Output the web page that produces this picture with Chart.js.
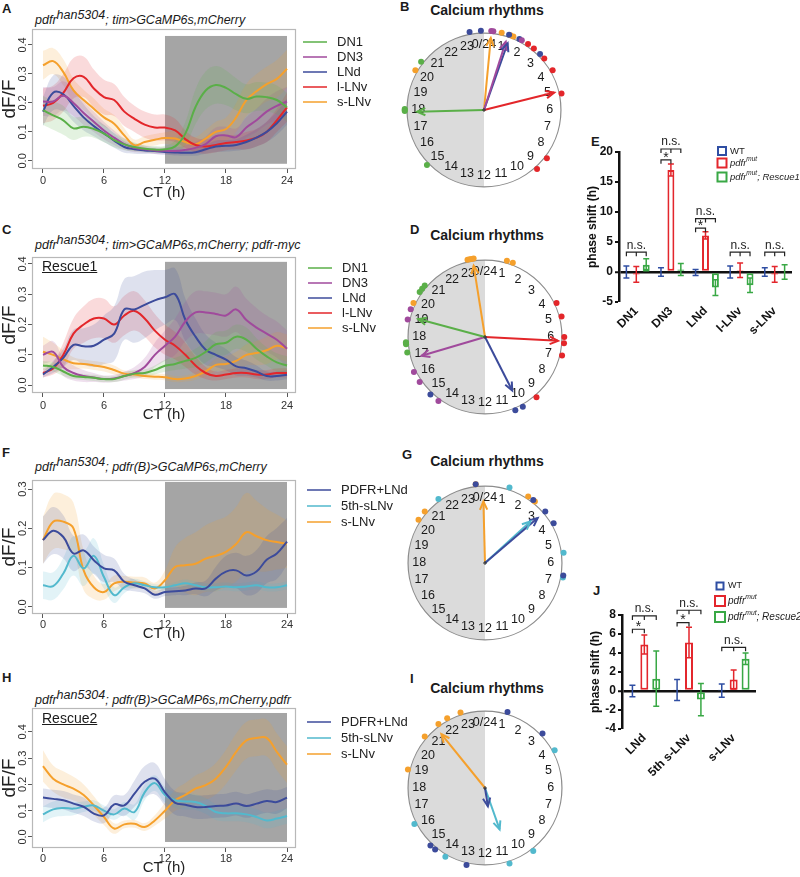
<!DOCTYPE html>
<html>
<head>
<meta charset="utf-8">
<script src="https://cdn.jsdelivr.net/npm/chart.js@4.4.1/dist/chart.umd.min.js"></script>
<style>
body { margin:0; background:#fff; width:800px; height:877px; position:relative; overflow:hidden; font-family:"Liberation Sans", Arial, sans-serif; color:#1a1a1a; }
canvas { position:absolute; }
.lbl { position:absolute; font-weight:bold; font-size:13px; line-height:1; }
.ttl { position:absolute; font-style:italic; font-size:12.5px; line-height:1; white-space:nowrap; }
.ttl .up { position:relative; top:-5px; }
.cr { position:absolute; left:407px; width:160px; text-align:center; font-weight:bold; font-size:14px; line-height:1; }
.res { position:absolute; left:42px; font-size:14px; line-height:1; text-decoration:underline; }
</style>
</head>
<body>
<div class="lbl" style="left:2px;top:2px">A</div>
<div class="lbl" style="left:400px;top:0px">B</div>
<div class="lbl" style="left:2px;top:223px">C</div>
<div class="lbl" style="left:410px;top:223px">D</div>
<div class="lbl" style="left:591px;top:135px">E</div>
<div class="lbl" style="left:2px;top:446px">F</div>
<div class="lbl" style="left:402px;top:448px">G</div>
<div class="lbl" style="left:2px;top:671px">H</div>
<div class="lbl" style="left:410px;top:672px">I</div>
<div class="lbl" style="left:593px;top:584px">J</div>

<div class="ttl" style="left:35px;top:14px">pdfr<span class="up">han5304</span>; tim&gt;GCaMP6s,mCherry</div>
<div class="ttl" style="left:35px;top:239px">pdfr<span class="up">han5304</span>; tim&gt;GCaMP6s,mCherry; pdfr-myc</div>
<div class="ttl" style="left:35px;top:461px">pdfr<span class="up">han5304</span>; pdfr(B)&gt;GCaMP6s,mCherry</div>
<div class="ttl" style="left:35px;top:694px">pdfr<span class="up">han5304</span>; pdfr(B)&gt;GCaMP6s,mCherry,pdfr</div>

<div class="cr" style="top:3px">Calcium rhythms</div>
<div class="cr" style="top:228px">Calcium rhythms</div>
<div class="cr" style="top:454px">Calcium rhythms</div>
<div class="cr" style="top:681px">Calcium rhythms</div>

<canvas id="cA" width="420" height="205" style="left:0;top:0"></canvas>
<canvas id="cC" width="420" height="205" style="left:0;top:220px"></canvas>
<canvas id="cF" width="420" height="205" style="left:0;top:440px"></canvas>
<canvas id="cH" width="420" height="216" style="left:0;top:660px"></canvas>
<canvas id="cB" width="210" height="210" style="left:379px;top:5px"></canvas>
<canvas id="cD" width="210" height="210" style="left:380px;top:232px"></canvas>
<canvas id="cG" width="210" height="210" style="left:380px;top:458px"></canvas>
<canvas id="cI" width="210" height="210" style="left:380px;top:683px"></canvas>
<canvas id="cE" width="260" height="225" style="left:540px;top:130px"></canvas>
<canvas id="cJ" width="260" height="230" style="left:540px;top:570px"></canvas>

<div class="res" style="top:259px">Rescue1</div>
<div class="res" style="top:711px">Rescue2</div>

<script>
// ---- data: calcium traces (CT hours, dF/F mean and sem) ----
const ctHours = [0,1,2,3,4,5,6,7,8,9,10,11,12,13,14,15,16,17,18,19,20,21,22,23,24];
const ctTicks = [0,6,12,18,24];
const dffTicks = [0,0.1,0.2,0.3,0.4];
const dffTicksF = [0,0.1,0.2,0.3];

// A
const dn1A = [0.175,0.157,0.140,0.112,0.118,0.110,0.094,0.072,0.057,0.048,0.042,0.039,0.040,0.050,0.094,0.186,0.243,0.262,0.252,0.230,0.214,0.222,0.220,0.210,0.185];
const dn3A = [0.205,0.205,0.225,0.200,0.165,0.135,0.105,0.080,0.058,0.045,0.040,0.036,0.035,0.034,0.038,0.045,0.058,0.085,0.088,0.082,0.115,0.140,0.170,0.190,0.205];
const lndA = [0.170,0.235,0.230,0.190,0.150,0.120,0.095,0.070,0.048,0.040,0.036,0.034,0.031,0.029,0.028,0.030,0.040,0.050,0.052,0.055,0.065,0.080,0.100,0.130,0.170];
const llnvA = [0.190,0.200,0.235,0.285,0.290,0.250,0.220,0.210,0.170,0.145,0.125,0.115,0.115,0.105,0.075,0.055,0.050,0.055,0.062,0.065,0.070,0.080,0.100,0.140,0.185];
const slnvA = [0.330,0.344,0.306,0.243,0.210,0.180,0.150,0.128,0.088,0.054,0.065,0.073,0.079,0.077,0.065,0.057,0.077,0.100,0.110,0.150,0.210,0.240,0.265,0.283,0.318];
const dn1ASem = [0.05,0.05,0.05,0.04,0.035,0.03,0.03,0.025,0.02,0.015,0.012,0.012,0.012,0.02,0.04,0.06,0.065,0.065,0.06,0.055,0.05,0.05,0.05,0.05,0.05];
const dn3ASem = [0.05,0.05,0.05,0.045,0.04,0.035,0.03,0.025,0.02,0.015,0.012,0.012,0.012,0.012,0.015,0.02,0.025,0.03,0.03,0.03,0.035,0.04,0.045,0.05,0.05];
const lndASem = [0.05,0.06,0.06,0.055,0.045,0.035,0.03,0.025,0.02,0.015,0.012,0.01,0.01,0.01,0.01,0.012,0.015,0.02,0.02,0.02,0.025,0.03,0.035,0.04,0.045];
const llnvASem = [0.06,0.06,0.065,0.07,0.07,0.065,0.06,0.055,0.05,0.045,0.045,0.045,0.045,0.04,0.03,0.025,0.025,0.025,0.025,0.025,0.03,0.03,0.035,0.04,0.05];
const slnvASem = [0.05,0.045,0.045,0.04,0.035,0.035,0.03,0.03,0.025,0.02,0.02,0.02,0.02,0.025,0.025,0.025,0.03,0.035,0.04,0.05,0.055,0.06,0.06,0.065,0.065];

// C
const dn1C = [0.065,0.060,0.045,0.030,0.027,0.024,0.020,0.020,0.030,0.038,0.040,0.050,0.064,0.070,0.080,0.090,0.110,0.135,0.140,0.160,0.150,0.120,0.095,0.075,0.065];
const dn3C = [0.100,0.110,0.060,0.040,0.030,0.025,0.020,0.022,0.030,0.040,0.060,0.100,0.130,0.160,0.210,0.240,0.240,0.235,0.230,0.250,0.215,0.190,0.170,0.150,0.120];
const lndC = [0.035,0.060,0.090,0.133,0.128,0.130,0.150,0.170,0.250,0.250,0.265,0.280,0.290,0.300,0.216,0.160,0.117,0.100,0.084,0.062,0.056,0.045,0.030,0.030,0.034];
const llnvC = [0.040,0.055,0.100,0.170,0.200,0.220,0.220,0.200,0.230,0.245,0.220,0.180,0.150,0.130,0.100,0.065,0.040,0.030,0.035,0.040,0.040,0.035,0.035,0.040,0.040];
const slnvC = [0.110,0.100,0.085,0.072,0.070,0.065,0.060,0.050,0.038,0.035,0.030,0.028,0.026,0.020,0.022,0.030,0.045,0.067,0.070,0.080,0.100,0.106,0.115,0.130,0.122];
const dn1CSem = [0.015,0.015,0.015,0.01,0.01,0.01,0.01,0.01,0.012,0.012,0.012,0.015,0.02,0.02,0.025,0.03,0.035,0.04,0.04,0.04,0.04,0.035,0.03,0.03,0.03];
const dn3CSem = [0.03,0.035,0.03,0.025,0.02,0.015,0.012,0.012,0.015,0.02,0.03,0.04,0.05,0.06,0.065,0.07,0.07,0.07,0.07,0.075,0.07,0.065,0.06,0.06,0.06];
const lndCSem = [0.01,0.02,0.03,0.05,0.06,0.07,0.08,0.09,0.1,0.11,0.11,0.1,0.09,0.085,0.07,0.06,0.05,0.04,0.035,0.03,0.025,0.02,0.015,0.015,0.015];
const llnvCSem = [0.015,0.02,0.04,0.05,0.06,0.065,0.065,0.06,0.065,0.065,0.06,0.055,0.05,0.045,0.04,0.03,0.02,0.015,0.015,0.015,0.015,0.015,0.015,0.015,0.015];
const slnvCSem = [0.05,0.04,0.03,0.02,0.015,0.015,0.015,0.015,0.01,0.01,0.01,0.01,0.01,0.01,0.01,0.012,0.015,0.02,0.025,0.03,0.035,0.04,0.045,0.045,0.045];

// F
const pdfrF = [0.170,0.194,0.178,0.136,0.144,0.119,0.098,0.093,0.064,0.055,0.047,0.031,0.038,0.040,0.042,0.047,0.047,0.072,0.090,0.093,0.080,0.090,0.120,0.136,0.166];
const cyanF = [0.055,0.053,0.085,0.130,0.098,0.130,0.076,0.030,0.050,0.060,0.055,0.050,0.050,0.055,0.060,0.055,0.050,0.050,0.052,0.050,0.052,0.055,0.050,0.050,0.055];
const slnvF = [0.170,0.217,0.217,0.200,0.093,0.050,0.038,0.060,0.064,0.062,0.060,0.047,0.068,0.102,0.106,0.110,0.123,0.130,0.140,0.160,0.190,0.180,0.170,0.165,0.160];
const pdfrFSem = [0.06,0.06,0.055,0.045,0.04,0.035,0.035,0.03,0.02,0.015,0.012,0.01,0.01,0.01,0.012,0.015,0.02,0.03,0.04,0.045,0.05,0.055,0.06,0.065,0.06];
const cyanFSem = [0.035,0.035,0.04,0.05,0.045,0.045,0.03,0.02,0.015,0.012,0.01,0.008,0.008,0.008,0.01,0.01,0.01,0.01,0.01,0.01,0.01,0.01,0.01,0.01,0.01];
const slnvFSem = [0.06,0.07,0.07,0.065,0.05,0.03,0.02,0.02,0.015,0.015,0.015,0.015,0.025,0.05,0.07,0.08,0.085,0.09,0.09,0.095,0.1,0.09,0.08,0.07,0.06];

// H
const pdfrH = [0.150,0.145,0.140,0.127,0.115,0.089,0.082,0.124,0.120,0.165,0.210,0.222,0.170,0.130,0.123,0.114,0.114,0.118,0.120,0.127,0.118,0.127,0.137,0.133,0.150];
const cyanH = [0.086,0.105,0.110,0.108,0.115,0.120,0.100,0.086,0.108,0.095,0.170,0.205,0.160,0.140,0.135,0.133,0.118,0.095,0.090,0.090,0.086,0.076,0.063,0.070,0.080];
const slnvH = [0.270,0.222,0.200,0.184,0.160,0.120,0.076,0.032,0.048,0.050,0.038,0.063,0.100,0.140,0.160,0.184,0.197,0.222,0.267,0.324,0.368,0.377,0.377,0.324,0.275];
const pdfrHSem = [0.035,0.035,0.035,0.035,0.035,0.03,0.03,0.035,0.04,0.05,0.06,0.06,0.05,0.045,0.045,0.045,0.045,0.045,0.045,0.045,0.045,0.045,0.045,0.045,0.04];
const cyanHSem = [0.03,0.03,0.03,0.025,0.02,0.02,0.02,0.02,0.025,0.03,0.03,0.03,0.03,0.03,0.03,0.03,0.03,0.03,0.03,0.03,0.03,0.03,0.03,0.03,0.03];
const slnvHSem = [0.06,0.05,0.05,0.045,0.04,0.035,0.03,0.02,0.015,0.015,0.015,0.02,0.03,0.04,0.045,0.05,0.055,0.06,0.065,0.07,0.07,0.07,0.07,0.07,0.07];

// ---- data: phase clocks (hours; arrow = [phase, length]) ----
const clockHours = [0,1,2,3,4,5,6,7,8,9,10,11,12,13,14,15,16,17,18,19,20,21,22,23];
const clockHourLabels = ['0/24','1','2','3','4','5','6','7','8','9','10','11','12','13','14','15','16','17','18','19','20','21','22','23'];

const bDn1Dots = [20.5, 18.0, 18.05, 17.95, 15.07];
const bDn3Dots = [0.35, 0.45, 1.9];
const bLndDots = [23.3, 23.85, 1.23, 1.77, 3.0];
const bLlnvDots = [2.25, 2.6, 3.3, 4.0, 5.2, 8.5, 9.2];
const bSlnvDots = [20.0, 0.86, 1.3, 1.45];
const bDn1Arrow = [17.9, 0.87];
const bDn3Arrow = [1.18, 0.93];
const bLndArrow = [1.3, 0.92];
const bLlnvArrow = [5.07, 0.94];
const bSlnvArrow = [0.36, 0.94];

const dDn1Dots = [20.3, 20.5, 20.7, 17.7, 17.65, 17.75, 17.25];
const dDn3Dots = [19.36, 18.85, 16.25, 15.7, 14.4];
const dLndDots = [14.9, 10.5, 10.1];
const dLlnvDots = [4.3, 5.0, 6.0, 6.3, 6.9, 9.3];
const dSlnvDots = [23.15, 23.25, 23.35, 23.45, 19.7, 1.07, 1.37];
const dDn1Arrow = [19.0, 0.9];
const dDn3Arrow = [16.9, 0.86];
const dLndArrow = [10.2, 0.78];
const dLlnvArrow = [6.2, 0.95];
const dSlnvArrow = [23.4, 0.94];

const gPdfrDots = [23.55, 2.5, 3.3, 4.0, 6.6];
const gCyanDots = [1.2, 21.6, 5.5, 6.7];
const gSlnvDots = [23.55, 2.2, 2.6, 20.7, 20.2];
const gPdfrArrow = [3.3, 0.9];
const gCyanArrow = [3.17, 0.8];
const gSlnvArrow = [23.9, 0.8];

const iPdfrDots = [1.1, 14.9, 14.6, 12.9, 3.1];
const iCyanDots = [16.2, 14.0, 10.8, 9.5, 4.1];
const iSlnvDots = [21.6, 22.1, 22.8, 20.7, 18.9];
const iPdfrArrow = [11.4, 0.24];
const iCyanArrow = [10.7, 0.57];
const iSlnvArrow = [21.4, 0.9];

// ---- data: phase shift bars ----
const eCategories = ['DN1','DN3','LNd','l-LNv','s-LNv'];
const eWT = [0, 0, -0.1, 0, 0];
const eWTErr = [1.0, 0.7, 0.5, 1.0, 0.7];
const ePdfr = [-0.4, 17.0, 6.1, 0.3, -0.4];
const ePdfrErr = [1.3, 1.0, 0.6, 1.2, 1.3];
const eRescue = [1.2, 0.4, -2.6, -2.2, 0];
const eRescueErr = [1.0, 1.0, 1.3, 1.2, 1.2];
const eTicks = [-5, 0, 5, 10, 15, 20];
const eLegend = ['WT', 'pdfr{mut}', 'pdfr{mut}; Rescue1'];
// [category, fromSeries, toSeries, height, text]
const eBrackets = [[0,0,2,3.3,'n.s.'],[1,0,1,18.7,'*'],[1,0,2,20.5,'n.s.'],[2,0,1,7.3,'*'],[2,0,2,8.9,'n.s.'],[3,0,2,3.3,'n.s.'],[4,0,2,3.3,'n.s.']];

const jCategories = ['LNd','5th s-LNv','s-LNv'];
const jWT = [0, 0.1, 0.05];
const jWTErr = [0.6, 1.1, 0.7];
const jPdfr = [4.9, 5.1, 1.2];
const jPdfrErr = [1.0, 1.6, 1.0];
const jRescue = [1.3, -0.9, 3.4];
const jRescueErr = [2.9, 1.7, 0.6];
const jTicks = [-4, -2, 0, 2, 4, 6, 8];
const jLegend = ['WT', 'pdfr{mut}', 'pdfr{mut}; Rescue2'];
const jBrackets = [[0,0,1,6.5,'*'],[0,0,2,7.9,'n.s.'],[1,0,1,7.2,'*'],[1,0,2,8.5,'n.s.'],[2,0,2,4.6,'n.s.']];

// ---- colours ----
const GREEN = '#5aaf48', PURPLE = '#a04a9c', NAVY = '#3c4b9b', RED = '#e3262a', ORANGE = '#f5a02c', CYAN = '#52b9cd';
const BAR_BLUE = '#2f4ea3', BAR_RED = '#e3262c', BAR_GREEN = '#39a845';
const FONT = '"Liberation Sans", Arial, sans-serif';

function rgba(hex, a) {
  const n = parseInt(hex.slice(1), 16);
  return 'rgba(' + (n >> 16) + ',' + ((n >> 8) & 255) + ',' + (n & 255) + ',' + a + ')';
}

// ---------- line panels ----------
const panelDeco = {
  id: 'panelDeco',
  beforeDatasetsDraw(chart, args, opts) {
    const {ctx, scales: {x, y}} = chart;
    const x0 = x.getPixelForValue(12), x1 = x.getPixelForValue(24);
    const y0 = y.getPixelForValue(opts.shade[1]), y1 = y.getPixelForValue(opts.shade[0]);
    ctx.save();
    ctx.fillStyle = '#a5a5a5';
    ctx.fillRect(x0, y0, x1 - x0, y1 - y0);
    ctx.restore();
  },
  afterDraw(chart, args, opts) {
    const {ctx, chartArea: a} = chart;
    ctx.save();
    ctx.strokeStyle = '#b8b8b8';
    ctx.lineWidth = 1.2;
    ctx.strokeRect(a.left + 0.5, a.top + 0.5, a.width - 1, a.height - 1);
    // x axis title
    ctx.fillStyle = '#222';
    ctx.font = '15px ' + FONT;
    ctx.textAlign = 'center';
    ctx.textBaseline = 'middle';
    ctx.fillText('CT (h)', (a.left + a.right) / 2, a.bottom + opts.titleOffset);
    // legend
    ctx.textAlign = 'left';
    ctx.font = '13px ' + FONT;
    let i = 0;
    chart.data.datasets.forEach(ds => {
      if (!ds.legendLine) return;
      const yy = opts.legendY + i * opts.legendGap;
      ctx.strokeStyle = ds.borderColor;
      ctx.lineWidth = 1.5;
      ctx.beginPath();
      ctx.moveTo(opts.legendX, yy);
      ctx.lineTo(opts.legendX + 24, yy);
      ctx.stroke();
      ctx.fillStyle = '#222';
      ctx.fillText(ds.label, opts.legendX + 34, yy);
      i++;
    });
    ctx.restore();
  }
};

function bandSets(label, mean, sem, color) {
  return [
    {data: ctHours.map((h, i) => ({x: h, y: mean[i] + sem[i]})), borderWidth: 0, pointRadius: 0, fill: false, tension: 0.4, order: 10},
    {data: ctHours.map((h, i) => ({x: h, y: mean[i] - sem[i]})), borderWidth: 0, pointRadius: 0, fill: '-1', backgroundColor: rgba(color, 0.17), tension: 0.4, order: 10},
    {label: label, data: ctHours.map((h, i) => ({x: h, y: mean[i]})), borderColor: color, borderWidth: 2, pointRadius: 0, fill: false, tension: 0.4, order: 0, legendLine: true}
  ];
}

function lineChart(id, o) {
  const datasets = [];
  o.series.forEach(s => datasets.push(...bandSets(s[0], s[1], s[2], s[3])));
  const canvas = document.getElementById(id);
  new Chart(canvas, {
    type: 'line',
    data: {datasets},
    options: {
      responsive: false,
      animation: false,
      layout: {padding: {top: o.areaTop, right: canvas.width - 296, left: 0, bottom: 0}},
      plugins: {
        legend: {display: false},
        tooltip: {enabled: false},
        panelDeco: {shade: o.shade, legendX: o.legendX, legendY: o.legendY, legendGap: o.legendGap, titleOffset: o.titleOffset}
      },
      scales: {
        x: {
          type: 'linear', min: -1.08, max: 24.885,
          afterBuildTicks: s => { s.ticks = ctTicks.map(v => ({value: v})); },
          afterFit: s => { s.height = canvas.height - o.areaBottom; },
          ticks: {padding: o.xPad, maxRotation: 0, font: {size: 11, family: FONT}, color: '#333'},
          grid: {drawOnChartArea: false, tickLength: 4, color: '#555'},
          border: {display: false}
        },
        y: {
          min: o.yRange[0], max: o.yRange[1],
          afterBuildTicks: s => { s.ticks = o.yTicks.map(v => ({value: v})); },
          afterFit: s => { s.width = 32; },
          ticks: {minRotation: 90, maxRotation: 90, crossAlign: 'center', padding: -3, font: {size: 11, family: FONT}, color: '#333', callback: v => v.toFixed(1)},
          grid: {drawOnChartArea: false, tickLength: 4, color: '#555'},
          border: {display: false},
          title: {display: true, text: 'dF/F', padding: 0, font: {size: 19, family: FONT, lineHeight: 1}, color: '#222'}
        }
      }
    },
    plugins: [panelDeco]
  });
}

lineChart('cA', {
  series: [['DN1', dn1A, dn1ASem, GREEN], ['DN3', dn3A, dn3ASem, PURPLE], ['LNd', lndA, lndASem, NAVY], ['l-LNv', llnvA, llnvASem, RED], ['s-LNv', slnvA, slnvASem, ORANGE]],
  areaTop: 29, areaBottom: 169, yRange: [-0.028, 0.455], yTicks: dffTicks, shade: [-0.01, 0.431], xPad: 1, titleOffset: 24,
  legendX: 303, legendY: 42, legendGap: 15
});
lineChart('cC', {
  series: [['DN1', dn1C, dn1CSem, GREEN], ['DN3', dn3C, dn3CSem, PURPLE], ['LNd', lndC, lndCSem, NAVY], ['l-LNv', llnvC, llnvCSem, RED], ['s-LNv', slnvC, slnvCSem, ORANGE]],
  areaTop: 37, areaBottom: 173, yRange: [-0.026, 0.423], yTicks: dffTicks, shade: [-0.013, 0.407], xPad: 2, titleOffset: 22,
  legendX: 308, legendY: 48, legendGap: 15
});
lineChart('cF', {
  series: [['PDFR+LNd', pdfrF, pdfrFSem, NAVY], ['5th-sLNv', cyanF, cyanFSem, CYAN], ['s-LNv', slnvF, slnvFSem, ORANGE]],
  areaTop: 40, areaBottom: 174, yRange: [-0.018, 0.323], yTicks: dffTicksF, shade: [-0.0025, 0.318], xPad: 0, titleOffset: 20,
  legendX: 307, legendY: 50, legendGap: 16
});
lineChart('cH', {
  series: [['PDFR+LNd', pdfrH, pdfrHSem, NAVY], ['5th-sLNv', cyanH, cyanHSem, CYAN], ['s-LNv', slnvH, slnvHSem, ORANGE]],
  areaTop: 48, areaBottom: 188, yRange: [-0.042, 0.491], yTicks: dffTicks, shade: [-0.019, 0.472], xPad: 0, titleOffset: 20,
  legendX: 307, legendY: 62, legendGap: 16
});

// ---------- phase clocks ----------
function clockPoint(h, r) {
  const a = h / 24 * 2 * Math.PI;
  return {x: r * Math.sin(a), y: r * Math.cos(a)};
}

const clockDeco = {
  id: 'clockDeco',
  beforeDatasetsDraw(chart) {
    const {ctx, scales: {x, y}} = chart;
    const cx = x.getPixelForValue(0), cy = y.getPixelForValue(0);
    const R = x.getPixelForValue(1) - cx;
    ctx.save();
    ctx.fillStyle = '#dbdbdb';
    ctx.beginPath();
    ctx.arc(cx, cy, R, Math.PI / 2, Math.PI * 1.5);
    ctx.closePath();
    ctx.fill();
    ctx.strokeStyle = '#8c8c8c';
    ctx.lineWidth = 1.2;
    ctx.beginPath();
    ctx.arc(cx, cy, R, 0, Math.PI * 2);
    ctx.stroke();
    ctx.fillStyle = '#1a1a1a';
    ctx.font = '12.5px ' + FONT;
    ctx.textAlign = 'center';
    ctx.textBaseline = 'middle';
    clockHours.forEach((h, i) => {
      const p = clockPoint(h, 0.855);
      ctx.fillText(clockHourLabels[i], x.getPixelForValue(p.x), y.getPixelForValue(p.y));
    });
    ctx.restore();
  },
  afterDatasetsDraw(chart) {
    const {ctx, scales: {x, y}} = chart;
    ctx.save();
    chart.data.datasets.forEach((ds, i) => {
      if (!ds.arrow) return;
      const m = chart.getDatasetMeta(i);
      const p0 = m.data[0], p1 = m.data[1];
      const ang = Math.atan2(p1.y - p0.y, p1.x - p0.x);
      ctx.strokeStyle = ds.borderColor;
      ctx.lineWidth = 2;
      ctx.beginPath();
      ctx.moveTo(p1.x - 9 * Math.cos(ang - 0.42), p1.y - 9 * Math.sin(ang - 0.42));
      ctx.lineTo(p1.x, p1.y);
      ctx.lineTo(p1.x - 9 * Math.cos(ang + 0.42), p1.y - 9 * Math.sin(ang + 0.42));
      ctx.stroke();
    });
    const cx = x.getPixelForValue(0), cy = y.getPixelForValue(0);
    ctx.strokeStyle = '#333';
    ctx.lineWidth = 1;
    ctx.beginPath();
    ctx.moveTo(cx - 2, cy); ctx.lineTo(cx + 2, cy);
    ctx.moveTo(cx, cy - 2); ctx.lineTo(cx, cy + 2);
    ctx.stroke();
    ctx.restore();
  }
};

function clockChart(id, groups) {
  const datasets = [];
  groups.forEach(g => {
    datasets.push({data: [{x: 0, y: 0}, clockPoint(g.arrow[0], g.arrow[1])], showLine: true, borderColor: g.color, borderWidth: 2, pointRadius: 0, arrow: true});
    datasets.push({data: g.dots.map(h => clockPoint(h, 1.03)), pointRadius: 3, backgroundColor: g.color, borderWidth: 0});
  });
  new Chart(document.getElementById(id), {
    type: 'scatter',
    data: {datasets},
    options: {
      responsive: false,
      animation: false,
      layout: {padding: 0},
      plugins: {legend: {display: false}, tooltip: {enabled: false}},
      scales: {
        x: {type: 'linear', min: -1.3125, max: 1.3125, display: false},
        y: {type: 'linear', min: -1.3125, max: 1.3125, display: false}
      }
    },
    plugins: [clockDeco]
  });
}

clockChart('cB', [
  {color: GREEN, dots: bDn1Dots, arrow: bDn1Arrow},
  {color: PURPLE, dots: bDn3Dots, arrow: bDn3Arrow},
  {color: NAVY, dots: bLndDots, arrow: bLndArrow},
  {color: RED, dots: bLlnvDots, arrow: bLlnvArrow},
  {color: ORANGE, dots: bSlnvDots, arrow: bSlnvArrow}
]);
clockChart('cD', [
  {color: GREEN, dots: dDn1Dots, arrow: dDn1Arrow},
  {color: PURPLE, dots: dDn3Dots, arrow: dDn3Arrow},
  {color: NAVY, dots: dLndDots, arrow: dLndArrow},
  {color: RED, dots: dLlnvDots, arrow: dLlnvArrow},
  {color: ORANGE, dots: dSlnvDots, arrow: dSlnvArrow}
]);
clockChart('cG', [
  {color: NAVY, dots: gPdfrDots, arrow: gPdfrArrow},
  {color: CYAN, dots: gCyanDots, arrow: gCyanArrow},
  {color: ORANGE, dots: gSlnvDots, arrow: gSlnvArrow}
]);
clockChart('cI', [
  {color: NAVY, dots: iPdfrDots, arrow: iPdfrArrow},
  {color: CYAN, dots: iCyanDots, arrow: iCyanArrow},
  {color: ORANGE, dots: iSlnvDots, arrow: iSlnvArrow}
]);

// ---------- phase shift bars ----------
function drawRich(ctx, text, x, y, size, italic) {
  const parts = text.split(/(\{[^}]*\})/).filter(p => p.length);
  let cx = x;
  parts.forEach(p => {
    const sup = p[0] === '{';
    const t = sup ? p.slice(1, -1) : p;
    const sz = sup ? size * 0.68 : size;
    ctx.font = (italic ? 'italic ' : '') + sz + 'px ' + FONT;
    ctx.fillText(t, cx, sup ? y - size * 0.38 : y);
    cx += ctx.measureText(t).width;
  });
}

const barDeco = {
  id: 'barDeco',
  afterDatasetsDraw(chart, args, opts) {
    const {ctx, scales: {y}} = chart;
    ctx.save();
    // error bars
    chart.data.datasets.forEach((ds, i) => {
      const m = chart.getDatasetMeta(i);
      ctx.strokeStyle = ds.borderColor;
      ctx.lineWidth = 1.5;
      ds.data.forEach((v, j) => {
        const bx = m.data[j].x;
        const yt = y.getPixelForValue(v + ds.err[j]), yb = y.getPixelForValue(v - ds.err[j]);
        ctx.beginPath();
        ctx.moveTo(bx, yt); ctx.lineTo(bx, yb);
        ctx.moveTo(bx - 3, yt); ctx.lineTo(bx + 3, yt);
        ctx.moveTo(bx - 3, yb); ctx.lineTo(bx + 3, yb);
        ctx.stroke();
      });
    });
    // significance brackets
    ctx.strokeStyle = '#222';
    ctx.fillStyle = '#222';
    ctx.lineWidth = 1.2;
    ctx.textAlign = 'center';
    ctx.textBaseline = 'bottom';
    opts.brackets.forEach(b => {
      const x1 = chart.getDatasetMeta(b[1]).data[b[0]].x;
      const x2 = chart.getDatasetMeta(b[2]).data[b[0]].x;
      const yy = y.getPixelForValue(b[3]);
      ctx.beginPath();
      ctx.moveTo(x1, yy + 4); ctx.lineTo(x1, yy); ctx.lineTo(x2, yy); ctx.lineTo(x2, yy + 4);
      if (b[2] - b[1] > 1) {
        const xm = chart.getDatasetMeta(1).data[b[0]].x;
        ctx.moveTo(xm, yy); ctx.lineTo(xm, yy + 4);
      }
      ctx.stroke();
      ctx.font = (b[4] === '*' ? '14px ' : '12px ') + FONT;
      ctx.fillText(b[4], (x1 + x2) / 2, b[4] === '*' ? yy + 5 : yy - 1);
    });
    // legend
    ctx.textAlign = 'left';
    ctx.textBaseline = 'middle';
    chart.data.datasets.forEach((ds, i) => {
      const yy = opts.legendY[i], s = opts.legendSize[i];
      ctx.strokeStyle = ds.borderColor;
      ctx.lineWidth = 2;
      ctx.strokeRect(opts.legendX - s / 2, yy - s / 2, s, s);
      ctx.fillStyle = '#222';
      drawRich(ctx, opts.labels[i], opts.legendX + 8, yy, opts.legendFont[i], i > 0);
    });
    ctx.restore();
  }
};

function barChart(id, o) {
  const canvas = document.getElementById(id);
  new Chart(canvas, {
    type: 'bar',
    data: {
      labels: o.labels,
      datasets: o.sets.map(s => ({
        data: s[0], err: s[1], borderColor: s[2], backgroundColor: '#fff', borderWidth: 2, borderSkipped: false,
        categoryPercentage: o.catPct, barPercentage: o.barPct
      }))
    },
    options: {
      responsive: false,
      animation: false,
      layout: {padding: {top: o.areaTop, right: o.padRight, left: 0, bottom: 0}},
      plugins: {
        legend: {display: false},
        tooltip: {enabled: false},
        barDeco: {brackets: o.brackets, labels: o.legend, legendX: o.legendX, legendY: o.legendY, legendSize: o.legendSize, legendFont: o.legendFont}
      },
      scales: {
        x: {
          afterFit: s => { s.height = canvas.height - o.areaBottom; },
          ticks: {minRotation: 45, maxRotation: 45, padding: 2, font: {size: 12, weight: 'bold', family: FONT}, color: '#111'},
          grid: {display: false, drawTicks: false},
          border: {display: false}
        },
        y: {
          min: o.yRange[0], max: o.yRange[1],
          afterBuildTicks: s => { s.ticks = o.yTicks.map(v => ({value: v})); },
          afterFit: s => { s.width = o.axisWidth; },
          ticks: {padding: 2, font: {size: 12, weight: 'bold', family: FONT}, color: '#111'},
          grid: {
            color: c => (c.tick && c.tick.value === 0) ? '#111' : 'rgba(0,0,0,0)',
            lineWidth: c => (c.tick && c.tick.value === 0) ? 2.5 : 0,
            drawTicks: true, tickLength: 4, tickColor: '#111', tickWidth: 2
          },
          border: {display: true, color: '#111', width: 2.5},
          title: {display: true, text: 'phase shift (h)', padding: {top: o.titlePad, bottom: 0}, font: {size: 12, weight: 'bold', family: FONT}, color: '#111'}
        }
      }
    },
    plugins: [barDeco]
  });
}

barChart('cE', {
  labels: eCategories,
  sets: [[eWT, eWTErr, BAR_BLUE], [ePdfr, ePdfrErr, BAR_RED], [eRescue, eRescueErr, BAR_GREEN]],
  yRange: [-5, 20], yTicks: eTicks, brackets: eBrackets, legend: eLegend,
  areaTop: 22, areaBottom: 172, axisWidth: 79, padRight: 8, titlePad: 45,
  catPct: 0.86, barPct: 0.7,
  legendX: 182, legendY: [21, 33, 47], legendSize: [8, 9, 9], legendFont: [9.5, 9.5, 9.5]
});
barChart('cJ', {
  labels: jCategories,
  sets: [[jWT, jWTErr, BAR_BLUE], [jPdfr, jPdfrErr, BAR_RED], [jRescue, jRescueErr, BAR_GREEN]],
  yRange: [-4, 8], yTicks: jTicks, brackets: jBrackets, legend: jLegend,
  areaTop: 45, areaBottom: 159, axisWidth: 82, padRight: 44, titlePad: 48,
  catPct: 0.8, barPct: 0.67,
  legendX: 180, legendY: [16, 31, 47], legendSize: [7, 10, 10], legendFont: [9, 10, 10]
});
</script>
</body>
</html>
